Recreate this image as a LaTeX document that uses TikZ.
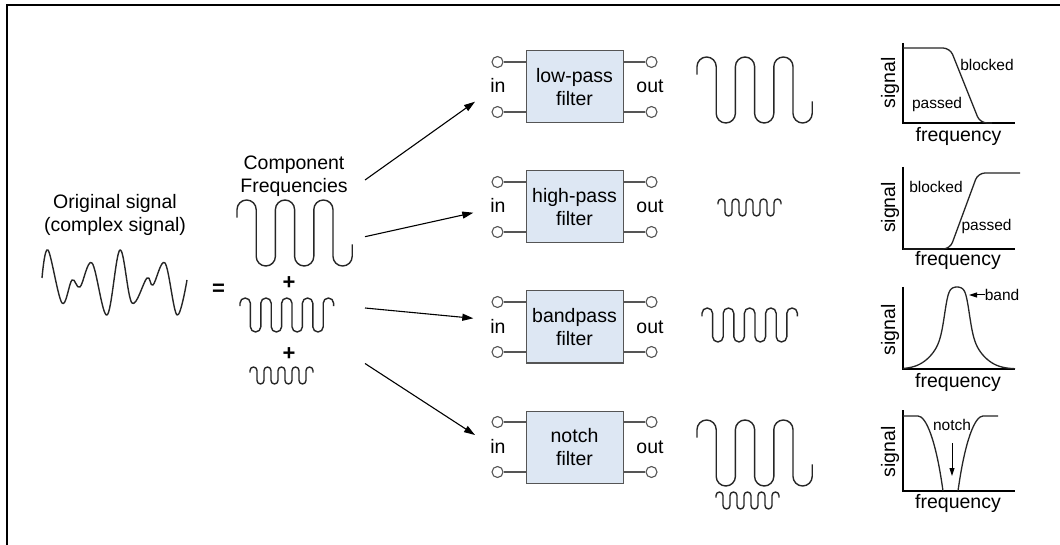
\documentclass[tikz,border=0pt]{standalone}
\usepackage{fontspec}
\setmainfont{Liberation Sans}
\usetikzlibrary{arrows.meta}
\definecolor{boxfill}{RGB}{221,231,243}
\definecolor{boxline}{RGB}{85,85,85}
\newcommand{\bigtxt}{\fontsize{19.5}{23}\selectfont}
\newcommand{\signtxt}{\fontsize{22}{24}\selectfont\bfseries}
\newcommand{\lbltxt}{\fontsize{15.5}{18}\selectfont}
% hairpin wave: 5 tops (two end hooks), 4 bottoms
\newcommand{\combwave}[5]{%
  \draw[wave] ({#1},{#2-#4-#5}) -- ++(0,#5)
    arc[start angle=180,end angle=0,radius=#4pt]
    \foreach \k in {1,...,4}{
      -- ++(0,{-(#2-#3-2*#4)})
      arc[start angle=180,end angle=360,radius=#4pt]
      -- ++(0,{#2-#3-2*#4})
      arc[start angle=180,end angle=0,radius=#4pt]
    }
    -- ++(0,-#5);
}
% hairpin wave: 3 tops, 3 bottoms
\newcommand{\bigwave}[6]{%
  \draw[wave] ({#1},{#2-#4-#5}) -- ++(0,#5)
    arc[start angle=180,end angle=0,radius=#4pt]
    -- ++(0,{-(#2-#3-2*#4)})
    arc[start angle=180,end angle=360,radius=#4pt]
    \foreach \k in {1,2}{
      -- ++(0,{#2-#3-2*#4})
      arc[start angle=180,end angle=0,radius=#4pt]
      -- ++(0,{-(#2-#3-2*#4)})
      arc[start angle=180,end angle=360,radius=#4pt]
    }
    -- ++(0,#6);
}
\begin{document}
\begin{tikzpicture}[x=1pt,y=1pt,
  declare function={bellq(\t)=((\t-957)/13)*((\t-957)/13)*((\t-957)/13)*((\t-957)/13)*((\t-957)/13)*((\t-957)/13);
                    bellf(\t)=0.58/(1+bellq(\t))+0.42*exp(-((\t-957)/26.5)*((\t-957)/26.5));},
  wave/.style={line width=1.4pt, draw=black!85, line join=round},
  respcurve/.style={line width=1.3pt, draw=black!85},
  axisline/.style={line width=1.6pt, draw=black},
  arr/.style={line width=1.1pt, -{Triangle[length=11pt,width=7pt]}},
  smallarr/.style={line width=1pt, -{Triangle[length=8pt,width=5pt]}},
  filterbox/.style={draw=boxline, line width=1pt, fill=boxfill, minimum width=97pt, minimum height=72pt, inner sep=0pt, align=center, font=\bigtxt},
  term/.style={circle, draw=boxline, line width=1.1pt, fill=white, minimum size=11pt, inner sep=0pt},
  termline/.style={draw=boxline, line width=1.2pt},
  maintext/.style={font=\bigtxt, inner sep=0pt, align=center},
  signtext/.style={font=\signtxt, inner sep=0pt, anchor=base},
  lbl/.style={font=\lbltxt, inner sep=0pt},
  axlbl/.style={font=\bigtxt, inner sep=0pt},
]
\useasboundingbox (0,0) rectangle (1060,544);
\fill[white] (0,0) rectangle (1060,544);
% frame
\draw[line width=2pt] (7,-3) -- (7,538.5) -- (1063,538.5);

% original signal
\node[maintext] (orig) at (115,329.5) {Original signal\\(complex signal)};
\draw[wave] plot[smooth, tension=0.6] coordinates {(42,266) (48,294) (62,241) (72,264) (80,257) (92,281) (107,229) (120,294) (132,241) (147,266) (153,259) (165,281) (177,229) (187,264)};
\node[signtext] (eq) at (218.5,248) {=};

% component frequencies
\node[maintext] (comp) at (294,367.5) {Component\\Frequencies};
\bigwave{237}{344}{278}{9.6}{8}{12}
\node[signtext] (plus1) at (289,254.3) {+};
\combwave{240}{246}{212}{5.2}{3}
\node[signtext] (plus2) at (289,183.3) {+};
\combwave{250}{177}{160}{3.5}{2}

% filters
\node[filterbox] (lp) at (574.5,457) {low-pass\\filter};
\node[filterbox] (hp) at (574.5,337) {high-pass\\filter};
\node[filterbox] (bp) at (574.5,217) {bandpass\\filter};
\node[filterbox] (nf) at (574.5,97) {notch\\filter};
\foreach \b in {lp,hp,bp,nf}{
  \node[term] (\b-i1) at ([shift={(-77,25)}]\b.center) {};
  \node[term] (\b-i2) at ([shift={(-77,-25)}]\b.center) {};
  \node[term] (\b-o1) at ([shift={(77,25)}]\b.center) {};
  \node[term] (\b-o2) at ([shift={(77,-25)}]\b.center) {};
  \draw[termline] (\b-i1) -- (\b-i1 -| \b.west);
  \draw[termline] (\b-i2) -- (\b-i2 -| \b.west);
  \draw[termline] (\b-o1) -- (\b-o1 -| \b.east);
  \draw[termline] (\b-o2) -- (\b-o2 -| \b.east);
  \node[axlbl, anchor=base] (\b-in) at ([shift={(-76.5,-6)}]\b.center) {in};
  \node[axlbl, anchor=base] (\b-out) at ([shift={(75.5,-6)}]\b.center) {out};
}

% arrows
\coordinate (a1s) at (365,364);   \coordinate (a1e) at (475,442.3);
\coordinate (a2s) at (365,307.3); \coordinate (a2e) at (473.3,331.3);
\coordinate (a3s) at (365,236);   \coordinate (a3e) at (473.3,225.7);
\coordinate (a4s) at (365,180.5); \coordinate (a4e) at (475,109);
\draw[arr] (a1s) -- (a1e);
\draw[arr] (a2s) -- (a2e);
\draw[arr] (a3s) -- (a3e);
\draw[arr] (a4s) -- (a4e);

% output signals
\bigwave{697}{487}{421}{9.6}{8}{12}
\combwave{718}{345}{328}{3.5}{2}
\combwave{702}{236}{202}{5.3}{3}
\bigwave{697}{124}{58}{9.6}{8}{12}
\combwave{716}{52}{35}{3.5}{2}

% plot 1: low-pass
\draw[axisline] (903,501) -- (903,421) -- (1015,421);
\draw[respcurve, rounded corners=7pt] (903,496) -- (950,496) -- (980,421) -- (992,421);
\node[axlbl, rotate=90] (s1) at (890,461) {signal};
\node[axlbl] (f1) at (958.5,408) {frequency};
\node[lbl] (blk1) at (987,479.5) {blocked};
\node[lbl] (pas1) at (937,440) {passed};

% plot 2: high-pass
\draw[axisline] (903,377) -- (903,295) -- (1015,295);
\draw[respcurve, rounded corners=7pt] (903,295) -- (950,295) -- (978,371) -- (1020,371);
\node[axlbl, rotate=90] (s2) at (890,336.5) {signal};
\node[axlbl] (f2) at (958,284) {frequency};
\node[lbl] (blk2) at (936,357) {blocked};
\node[lbl] (pas2) at (986.5,318) {passed};

% plot 3: bandpass
\draw[axisline] (903,257) -- (903,175) -- (1015,175);
\draw[respcurve] plot[domain=903:1015, samples=113] (\x,{175+82*bellf(\x)});
\node[lbl] (band) at (1002,249) {band};
\coordinate (bandtip) at (969,249);
\draw[smallarr] (band.west) -- (bandtip);
\node[axlbl, rotate=90] (s3) at (890,214) {signal};
\node[axlbl] (f3) at (958,162) {frequency};

% plot 4: notch
\draw[axisline] (903,134) -- (903,53) -- (1015,53);
\draw[respcurve] (903,128) -- (918,128) .. controls (926,128) and (936,104) .. (943,53);
\draw[respcurve] (958,53) .. controls (965,104) and (975,128) .. (983,128) -- (998,128);
\node[lbl] (notch) at (952,119) {notch};
\coordinate (notchfrom) at (952,101);
\coordinate (notchtip) at (952,68);
\draw[smallarr] (notchfrom) -- (notchtip);
\node[axlbl, rotate=90] (s4) at (890,92) {signal};
\node[axlbl] (f4) at (958,41) {frequency};
\end{tikzpicture}
\end{document}
